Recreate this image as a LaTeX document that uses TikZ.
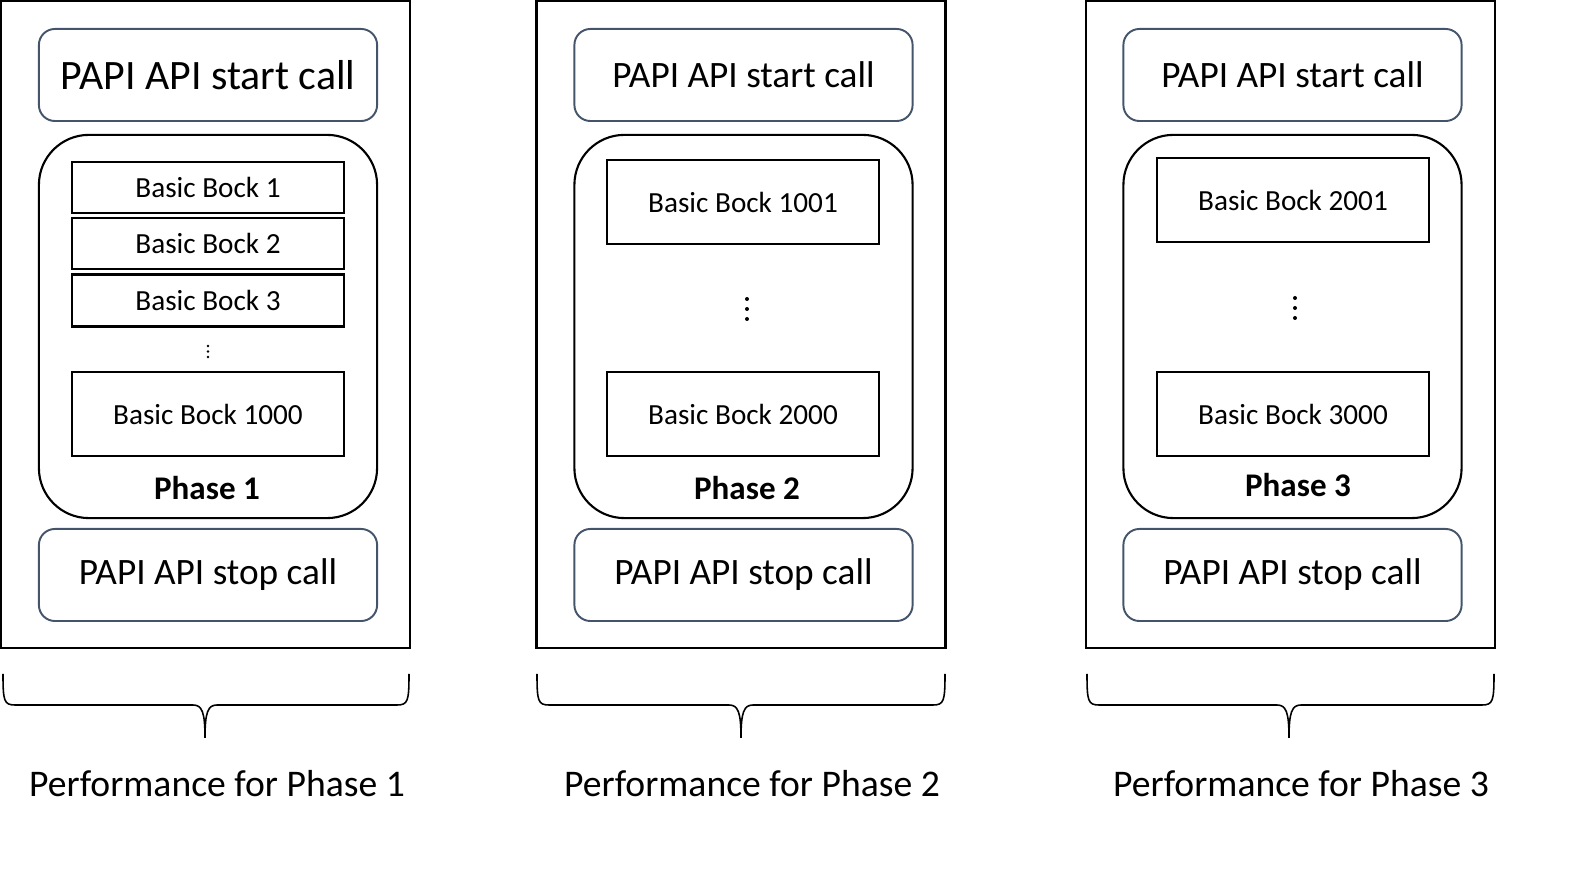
\documentclass[tikz,border=0pt]{standalone}
\usepackage{fontspec}
\setmainfont{Carlito}
\usetikzlibrary{positioning}
\definecolor{callEdge}{HTML}{44546A}

\tikzset{
  panel/.style={draw=black, line width=0.75pt, minimum width=4.09cm, minimum height=6.47cm, inner sep=0pt},
  callbox/.style={draw=callEdge, line width=0.55pt, rounded corners=0.16cm, minimum width=3.38cm, minimum height=0.92cm, inner sep=0pt, font=\fontsize{10.6}{12}\selectfont},
  phasebox/.style={draw=black, line width=0.6pt, rounded corners=0.5cm, minimum width=3.38cm, minimum height=3.83cm, inner sep=0pt},
  bockbox/.style={draw=black, line width=0.6pt, minimum width=2.72cm, inner sep=0pt, font=\fontsize{8.3}{9}\selectfont},
  phaselabel/.style={font=\fontsize{9.4}{10}\selectfont\bfseries},
  perflabel/.style={font=\fontsize{10.7}{12}\selectfont},
  bracket/.style={black, line width=0.45pt}
}

% curly bracket under a panel: left x, right x, tip x
\newcommand{\phasebrace}[3]{%
  \draw[bracket] (#1,674) .. controls (#1,701) and (#1+1,705) .. (#1+12,705) -- (#3-12,705)
    .. controls (#3-3,705) and (#3,712) .. (#3,738);
  \draw[bracket] (#2,674) .. controls (#2,701) and (#2-1,705) .. (#2-12,705) -- (#3+12,705)
    .. controls (#3+3,705) and (#3,712) .. (#3,738);
}

\begin{document}
\begin{tikzpicture}[x=0.01cm, y=-0.01cm]
  \useasboundingbox (0,0) rectangle (1587,883);

  % Phase 1
  \node[panel] (p1) at (205.5,324.5) {};
  \node[callbox, font=\fontsize{11.9}{14}\selectfont] (start1) at (208,75) {PAPI API start call};
  \node[phasebox] (ph1) at (208,326.5) {};
  \node[bockbox, minimum height=0.51cm] (bb1) at (208,187.5) {Basic Bock 1};
  \node[bockbox, minimum height=0.51cm] (bb2) at (208,243.5) {Basic Bock 2};
  \node[bockbox, minimum height=0.52cm] (bb3) at (208,300.5) {Basic Bock 3};
  \foreach \y in {346,351.5,357} \fill (208,\y) circle (1.3);
  \node[bockbox, minimum height=0.84cm] (bb1000) at (208,414) {Basic Bock 1000};
  \node[phaselabel] (lab1) at (207,488) {Phase 1};
  \node[callbox] (stop1) at (208,575) {PAPI API stop call};
  \phasebrace{3}{409}{205}
  \node[perflabel] (perf1) at (217,784) {Performance for Phase 1};

  % Phase 2
  \node[panel] (p2) at (741,324.5) {};
  \node[callbox] (start2) at (743.5,75) {PAPI API start call};
  \node[phasebox] (ph2) at (743.5,326.5) {};
  \node[bockbox, minimum height=0.84cm] (bb1001) at (743,202) {Basic Bock 1001};
  \foreach \y in {299,309,319} \fill (747,\y) circle (2);
  \node[bockbox, minimum height=0.84cm] (bb2000) at (743,414) {Basic Bock 2000};
  \node[phaselabel] (lab2) at (747,488) {Phase 2};
  \node[callbox] (stop2) at (743.5,575) {PAPI API stop call};
  \phasebrace{537}{945}{741}
  \node[perflabel] (perf2) at (752,784) {Performance for Phase 2};

  % Phase 3
  \node[panel] (p3) at (1290.5,324.5) {};
  \node[callbox] (start3) at (1292.5,75) {PAPI API start call};
  \node[phasebox] (ph3) at (1292.5,326.5) {};
  \node[bockbox, minimum height=0.84cm] (bb2001) at (1293,200) {Basic Bock 2001};
  \foreach \y in {298,308,318} \fill (1295,\y) circle (2);
  \node[bockbox, minimum height=0.84cm] (bb3000) at (1293,414) {Basic Bock 3000};
  \node[phaselabel] (lab3) at (1298,485) {Phase 3};
  \node[callbox] (stop3) at (1292.5,575) {PAPI API stop call};
  \phasebrace{1087}{1494}{1289}
  \node[perflabel] (perf3) at (1301,784) {Performance for Phase 3};
\end{tikzpicture}
\end{document}
